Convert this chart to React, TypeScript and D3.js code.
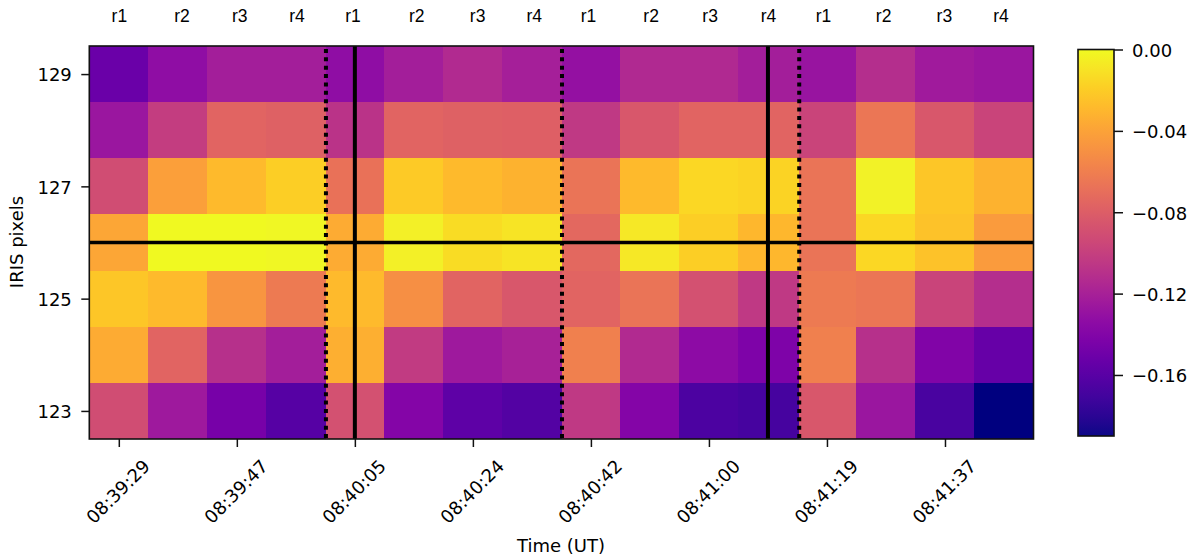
import React, { useEffect, useRef } from "react";
import * as d3 from "d3";

// one row per IRIS pixel, top row first, one column per raster position
const pixelRows = [129, 128, 127, 126, 125, 124, 123];
const rasterLabels = ["r1", "r2", "r3", "r4"];
const rasterSteps = [0.01, 1.07, 2.05, 3.02, 3.97, 5.05, 6.08, 7.04, 7.96, 9.02, 10.02, 11.01, 11.94, 12.96, 13.99, 14.95];
const timeLabels = ["08:39:29", "08:39:47", "08:40:05", "08:40:24", "08:40:42", "08:41:00", "08:41:19", "08:41:37"];
const pixelTicks = [129, 127, 125, 123];
const colorTicks = [0, -0.04, -0.08, -0.12, -0.16];

// column edges in step units, the cadence is not quite regular at each new raster
const columnEdges = [-0.5, 0.5, 1.5, 2.5, 3.51, 4.5, 5.5, 6.5, 7.51, 8.5, 9.5, 10.5, 11.53, 12.5, 13.5, 14.5, 15.5];
const solidSteps = [4, 11];
const dottedSteps = [3.51, 7.51, 11.53];
const solidPixel = 126;

const values = [
  [-0.152, -0.133, -0.122, -0.122, -0.133, -0.122, -0.114, -0.121, -0.131, -0.115, -0.115, -0.122, -0.129, -0.112, -0.124, -0.127],
  [-0.127, -0.101, -0.076, -0.078, -0.108, -0.076, -0.078, -0.079, -0.1045, -0.084, -0.076, -0.076, -0.097, -0.065, -0.084, -0.097],
  [-0.091, -0.042, -0.0285, -0.019, -0.068, -0.021, -0.0285, -0.032, -0.0665, -0.0285, -0.015, -0.017, -0.0665, -0.003, -0.023, -0.032],
  [-0.038, 0, 0, -0.001, -0.036, -0.004, -0.013, -0.0095, -0.074, -0.0076, -0.019, -0.03, -0.0665, -0.015, -0.025, -0.044],
  [-0.023, -0.0285, -0.0475, -0.063, -0.0285, -0.051, -0.076, -0.084, -0.076, -0.0665, -0.089, -0.1045, -0.063, -0.065, -0.097, -0.112],
  [-0.036, -0.076, -0.11, -0.122, -0.034, -0.103, -0.125, -0.12, -0.059, -0.114, -0.135, -0.1425, -0.059, -0.11, -0.1406, -0.154],
  [-0.091, -0.125, -0.146, -0.1615, -0.089, -0.139, -0.158, -0.163, -0.1045, -0.139, -0.166, -0.169, -0.084, -0.127, -0.167, -0.2],
];

const vmin = -0.19;
const vmax = 0;
const underColor = "#00007f";
const font = "'DejaVu Sans', sans-serif";
const fontSize = 18;

const App = () => {
  const ref = useRef<SVGSVGElement | null>(null);

  useEffect(() => {
    if (!ref.current) return;
    const svg = d3.select(ref.current);
    svg.selectAll("*").remove();

    const x = d3.scaleLinear().domain([-0.5, 15.5]).range([89.3, 1033.5]);
    const y = d3.scaleLinear().domain([129.5, 122.5]).range([46, 439]);
    const color = d3.scaleSequential(d3.interpolatePlasma).domain([vmin, vmax]);
    const fill = (v: number) => (v < vmin ? underColor : color(v));

    // heatmap cells
    const cells = svg.append("g").attr("shape-rendering", "crispEdges");
    values.forEach((row, r) => {
      row.forEach((v, c) => {
        cells
          .append("rect")
          .attr("x", x(columnEdges[c]))
          .attr("y", y(pixelRows[r] + 0.5))
          .attr("width", x(columnEdges[c + 1]) - x(columnEdges[c]))
          .attr("height", y(pixelRows[r] - 0.5) - y(pixelRows[r] + 0.5))
          .attr("fill", fill(v));
      });
    });

    // marker lines
    svg
      .selectAll(".dotted")
      .data(dottedSteps)
      .enter()
      .append("line")
      .attr("x1", (d) => x(d))
      .attr("x2", (d) => x(d))
      .attr("y1", y(122.5))
      .attr("y2", y(129.5) - 1.5)
      .attr("stroke", "#000")
      .attr("stroke-width", 4)
      .attr("stroke-dasharray", "4 4.37")
      .attr("stroke-dashoffset", -1);
    svg
      .selectAll(".solid")
      .data(solidSteps)
      .enter()
      .append("line")
      .attr("x1", (d) => x(d))
      .attr("x2", (d) => x(d))
      .attr("y1", y(122.5))
      .attr("y2", y(129.5))
      .attr("stroke", "#000")
      .attr("stroke-width", 4);
    svg
      .append("line")
      .attr("x1", x(-0.5))
      .attr("x2", x(15.5))
      .attr("y1", y(solidPixel))
      .attr("y2", y(solidPixel))
      .attr("stroke", "#000")
      .attr("stroke-width", 3.6);

    // frame
    svg
      .append("rect")
      .attr("x", x(-0.5))
      .attr("y", y(129.5))
      .attr("width", x(15.5) - x(-0.5))
      .attr("height", y(122.5) - y(129.5))
      .attr("fill", "none")
      .attr("stroke", "#111")
      .attr("stroke-width", 1.6);

    const styleAxis = (g: any) => {
      g.select(".domain").remove();
      g.selectAll(".tick line").attr("stroke", "#111").attr("stroke-width", 1.5);
      g.selectAll(".tick text").attr("fill", "#000").style("font-family", font).style("font-size", `${fontSize}px`);
    };

    // bottom axis, every second step
    const timeSteps = timeLabels.map((_, i) => i * 2);
    const xAxis = svg
      .append("g")
      .attr("transform", `translate(0,${y(122.5)})`)
      .call(
        d3
          .axisBottom(x)
          .tickValues(timeSteps)
          .tickSize(8)
          .tickPadding(6)
          .tickFormat((_, i) => timeLabels[i])
      );
    styleAxis(xAxis);
    xAxis
      .selectAll(".tick text")
      .attr("text-anchor", "middle")
      .attr("y", 0)
      .attr("dy", ".36em")
      .attr("transform", "translate(-1.3,52.5) rotate(-45)");

    // left axis
    const yAxis = svg
      .append("g")
      .attr("transform", `translate(${x(-0.5)},0)`)
      .call(d3.axisLeft(y).tickValues(pixelTicks).tickSize(8).tickPadding(9.5).tickFormat(d3.format("d")));
    styleAxis(yAxis);
    yAxis.selectAll(".tick text").attr("dy", ".38em");

    // raster labels along the top
    svg
      .selectAll(".raster")
      .data(rasterSteps)
      .enter()
      .append("text")
      .attr("x", (d) => x(d))
      .attr("y", 22.3)
      .attr("text-anchor", "middle")
      .style("font-family", "'Liberation Sans', sans-serif")
      .style("font-size", "17.5px")
      .text((_, i) => rasterLabels[i % 4]);

    svg
      .append("text")
      .attr("x", 561)
      .attr("y", 551.5)
      .attr("text-anchor", "middle")
      .style("font-family", font)
      .style("font-size", `${fontSize}px`)
      .text("Time (UT)");
    svg
      .append("text")
      .attr("transform", "translate(23.3,242) rotate(-90)")
      .attr("text-anchor", "middle")
      .style("font-family", font)
      .style("font-size", `${fontSize}px`)
      .text("IRIS pixels");

    // colorbar
    const cb = d3.scaleLinear().domain([vmin, vmax]).range([436, 49.5]);
    const defs = svg.append("defs");
    const grad = defs
      .append("linearGradient")
      .attr("id", "plasmaBar")
      .attr("x1", "0%")
      .attr("y1", "100%")
      .attr("x2", "0%")
      .attr("y2", "0%");
    d3.range(0, 1.001, 0.05).forEach((t) => {
      grad.append("stop").attr("offset", `${t * 100}%`).attr("stop-color", d3.interpolatePlasma(t));
    });
    svg
      .append("rect")
      .attr("x", 1078)
      .attr("y", cb(vmax))
      .attr("width", 36)
      .attr("height", cb(vmin) - cb(vmax))
      .attr("fill", "url(#plasmaBar)")
      .attr("stroke", "#111")
      .attr("stroke-width", 1.6);
    const cbAxis = svg
      .append("g")
      .attr("transform", "translate(1114,0)")
      .call(
        d3
          .axisRight(cb)
          .tickValues(colorTicks)
          .tickSize(9)
          .tickPadding(9)
          .tickFormat((d) => (+d === 0 ? "0.00" : d3.format(".2f")(+d).replace("-", "\u2212")))
      );
    styleAxis(cbAxis);
    cbAxis.selectAll(".tick text").attr("dy", ".38em");
  }, []);

  return (
    <svg
      ref={ref}
      width={1200}
      height={560}
      viewBox="0 0 1200 560"
      style={{ position: "absolute", left: 0, top: 0, background: "#fff" }}
    ></svg>
  );
};

export default App;
